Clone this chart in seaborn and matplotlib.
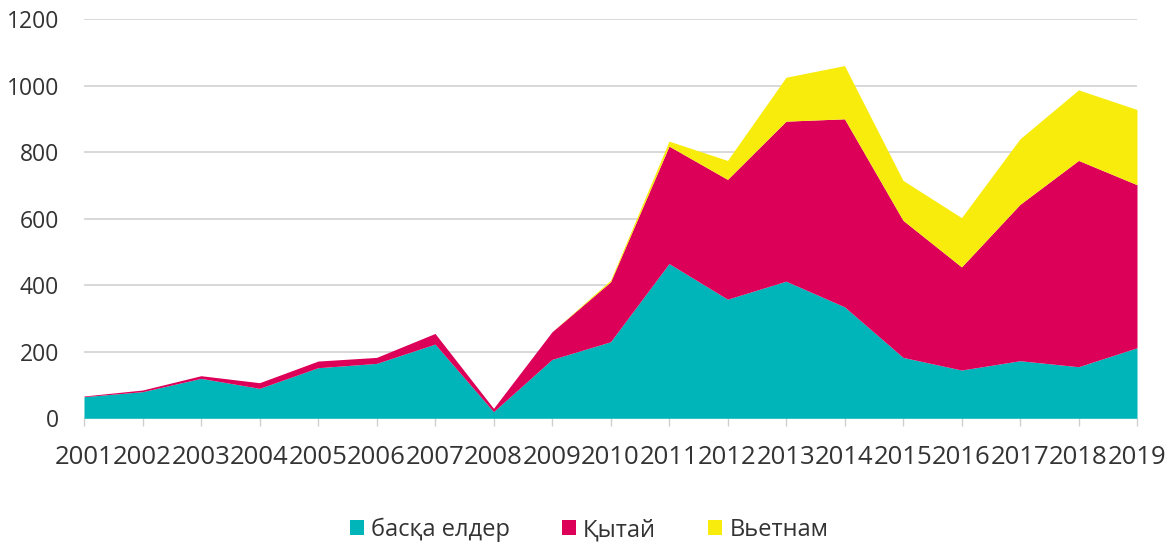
import numpy as np
import pandas as pd
import matplotlib
matplotlib.use('Agg')
import matplotlib.pyplot as plt
import seaborn as sns
from matplotlib.patches import Patch

# Dados
years = list(range(2001, 2020))
baska = [65, 80, 120, 90, 152, 165, 223, 20, 177, 230, 465, 358, 412, 335, 183, 145, 173, 155, 212]
qytai = [2, 5, 8, 17, 20, 18, 32, 10, 83, 180, 353, 360, 481, 565, 412, 310, 470, 620, 490]
vietnam = [0, 0, 0, 0, 0, 0, 0, 0, 0, 5, 15, 57, 132, 160, 120, 148, 197, 212, 226]
labels = ['басқа елдер', 'Қытай', 'Вьетнам']
colors = ['#00B5B9', '#DC0058', '#F8EC0C']
yticks = [0, 200, 400, 600, 800, 1000, 1200]

df = pd.DataFrame({'year': years, labels[0]: baska, labels[1]: qytai, labels[2]: vietnam})

sns.set_theme(style='white')
plt.rcParams['font.family'] = ['Open Sans', 'DejaVu Sans']
text_color = '#333333'

fig = plt.figure(figsize=(11.73, 5.44), dpi=100)
ax = fig.add_axes([84 / 1173, 1 - 418.3 / 544, (1137 - 84) / 1173, (418.3 - 19) / 544])

ax.stackplot(df['year'], df[labels[0]], df[labels[1]], df[labels[2]],
             colors=colors, linewidth=0, zorder=2)

ax.set_xlim(2001, 2019)
ax.set_ylim(0, 1200)
ax.set_xticks(years)
ax.set_xticklabels([str(y) for y in years])
ax.set_yticks(yticks)
ax.set_yticklabels([str(v) for v in yticks])
ax.yaxis.grid(True, color='#D5D5D5', linewidth=1.3, zorder=1)
ax.set_axisbelow(True)
for s in ax.spines.values():
    s.set_visible(False)

ax.tick_params(axis='x', length=6, width=1, color='#CFCFCF', pad=13,
               labelsize=18.5, labelcolor=text_color, bottom=True)
ax.tick_params(axis='y', length=0, pad=18, labelsize=16.5, labelcolor=text_color)

handles = [Patch(facecolor=c, edgecolor='none') for c in colors]
fig.legend(handles, labels, loc='center', bbox_to_anchor=(589 / 1173, 1 - 530 / 544),
           ncol=3, frameon=False, fontsize=17, labelcolor=text_color,
           handlelength=0.6, handleheight=0.6, handletextpad=0.3,
           columnspacing=2.2, borderaxespad=0)

fig.savefig('out.png', dpi=100)
